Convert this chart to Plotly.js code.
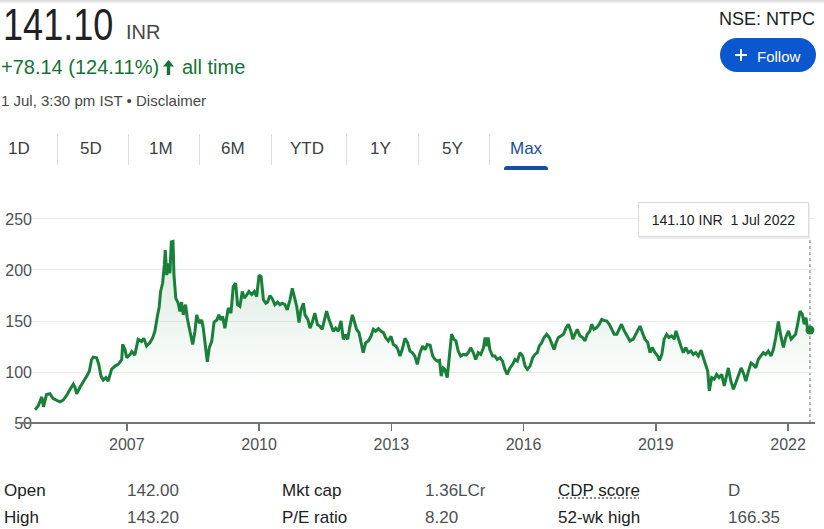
<!DOCTYPE html>
<html><head><meta charset="utf-8">
<script src="https://cdn.plot.ly/plotly-3.0.1.min.js"></script>
<style>
html,body{margin:0;padding:0;background:#fff;width:824px;height:529px;overflow:hidden;font-family:"Liberation Sans",Arial,sans-serif;}
#chart{position:absolute;left:0;top:0;width:824px;height:529px;}
.t{position:absolute;white-space:nowrap;line-height:1;}
#topshade{position:absolute;left:0;top:0;width:824px;height:4px;background:linear-gradient(#d9d9d9,#ffffff);}
.sep{position:absolute;top:134px;width:1px;height:31px;background:#dadce0;}
.tab{position:absolute;top:140px;font-size:17px;line-height:1;color:#3c4043;white-space:nowrap;}
.lab{position:absolute;font-size:17px;line-height:1;color:#202124;white-space:nowrap;}
.val{position:absolute;font-size:17px;line-height:1;color:#4d5156;white-space:nowrap;}
</style></head>
<body>
<div id="chart"></div>
<div id="topshade"></div>
<div class="t" style="left:3px;top:3px;font-size:44px;color:#202124;transform:scaleX(0.82);transform-origin:0 0;">141.10</div>
<div class="t" style="left:126px;top:22px;font-size:20px;color:#474747;">INR</div>
<div class="t" style="left:1px;top:57px;font-size:20px;color:#137333;">+78.14 (124.11%)</div>
<svg style="position:absolute;left:163px;top:60px" width="11" height="15" viewBox="0 0 11 15"><path d="M5.5 0 L11 6.5 L7.2 6.5 L7.2 15 L3.8 15 L3.8 6.5 L0 6.5 Z" fill="#137333"/></svg>
<div class="t" style="left:182px;top:57px;font-size:20px;color:#137333;">all time</div>
<div class="t" style="left:1px;top:93px;font-size:15px;color:#474747;">1 Jul, 3:30 pm IST • Disclaimer</div>
<div class="t" style="right:9px;top:10px;font-size:18px;color:#202124;">NSE: NTPC</div>
<div style="position:absolute;left:720px;top:38px;width:96px;height:34px;border-radius:17px;background:#0b57d0;">
  <svg style="position:absolute;left:15px;top:11px" width="12" height="12" viewBox="0 0 12 12"><rect x="5" y="0" width="2" height="12" fill="#fff"/><rect x="0" y="5" width="12" height="2" fill="#fff"/></svg>
  <div class="t" style="left:37px;top:11px;font-size:15px;color:#fff;">Follow</div>
</div>
<div class="tab" style="left:8px">1D</div>
<div class="tab" style="left:80px">5D</div>
<div class="tab" style="left:149px">1M</div>
<div class="tab" style="left:221px">6M</div>
<div class="tab" style="left:290px">YTD</div>
<div class="tab" style="left:370px">1Y</div>
<div class="tab" style="left:442px">5Y</div>
<div class="tab" style="left:510px;color:#174ea6">Max</div>
<div class="sep" style="left:57px"></div>
<div class="sep" style="left:128px"></div>
<div class="sep" style="left:199px"></div>
<div class="sep" style="left:271px"></div>
<div class="sep" style="left:346px"></div>
<div class="sep" style="left:418px"></div>
<div class="sep" style="left:489px"></div>
<div style="position:absolute;left:504px;top:166px;width:44px;height:4px;background:#174ea6;border-radius:3px 3px 0 0;"></div>
<div id="stats"></div>
<script>
// ---- data ----
const dates = [
'2004-12-02','2004-12-29','2005-01-27','2005-02-10','2005-03-07','2005-04-04','2005-05-01','2005-05-29','2005-06-26','2005-07-23','2005-08-21','2005-09-18','2005-10-15','2005-10-29','2005-11-12','2005-12-09',
'2006-01-06','2006-02-04','2006-02-25','2006-03-15','2006-03-28','2006-04-26','2006-05-14','2006-06-01','2006-06-20','2006-07-12','2006-07-31','2006-08-28','2006-09-25','2006-10-22','2006-11-20','2006-11-28','2006-12-17',
'2007-01-01','2007-01-28','2007-02-11','2007-03-08','2007-04-05','2007-05-03','2007-05-22','2007-06-14','2007-07-11','2007-08-03','2007-08-22','2007-09-11','2007-09-27','2007-10-08','2007-10-25','2007-11-08','2007-11-16','2007-11-28','2007-12-10','2007-12-24',
'2008-01-05','2008-01-19','2008-01-27','2008-02-11','2008-03-02','2008-03-16','2008-03-30','2008-04-13','2008-05-02','2008-05-16','2008-06-02','2008-06-30','2008-07-19','2008-08-02','2008-08-24','2008-09-13','2008-09-26','2008-10-10','2008-10-29','2008-11-15','2008-12-05','2008-12-24',
'2009-01-16','2009-02-02','2009-02-18','2009-03-05','2009-03-24','2009-04-21','2009-05-13','2009-06-01','2009-06-21','2009-07-07','2009-07-26','2009-08-15','2009-09-01','2009-09-21','2009-10-09','2009-11-01','2009-11-23','2009-12-12',
'2010-01-01','2010-01-18','2010-02-06','2010-02-26','2010-03-12','2010-04-01','2010-04-20','2010-05-12','2010-06-04','2010-06-23','2010-07-11','2010-08-03','2010-08-22','2010-09-14','2010-10-03','2010-10-20','2010-11-09','2010-11-28','2010-12-14',
'2011-01-03','2011-01-17','2011-02-09','2011-02-27','2011-03-17','2011-04-08','2011-04-30','2011-05-19','2011-06-08','2011-06-25','2011-07-14','2011-08-03','2011-08-19','2011-09-08','2011-09-28','2011-10-19','2011-11-11','2011-11-30','2011-12-19',
'2012-01-05','2012-01-24','2012-02-13','2012-02-28','2012-03-19','2012-04-08','2012-04-24','2012-05-13','2012-06-02','2012-06-24','2012-07-16','2012-08-05','2012-08-24','2012-09-16','2012-10-08','2012-10-27','2012-11-16','2012-12-07','2012-12-29',
'2013-01-18','2013-02-08','2013-02-24','2013-03-13','2013-04-01','2013-04-24','2013-05-16','2013-06-04','2013-06-23','2013-07-15','2013-08-04','2013-08-26','2013-09-18','2013-10-07','2013-10-26','2013-11-18','2013-12-10','2013-12-29',
'2014-01-17','2014-02-04','2014-02-18','2014-03-06','2014-03-20','2014-04-09','2014-04-25','2014-05-15','2014-06-04','2014-06-20','2014-07-09','2014-07-29','2014-08-20','2014-09-12','2014-09-30','2014-10-20','2014-11-11','2014-12-01','2014-12-22',
'2015-01-12','2015-02-03','2015-02-17','2015-03-01','2015-03-14','2015-03-28','2015-04-20','2015-05-09','2015-05-28','2015-06-20','2015-07-11','2015-07-31','2015-08-19','2015-09-11','2015-10-03','2015-10-22','2015-11-11','2015-12-03','2015-12-25',
'2016-01-14','2016-02-02','2016-02-24','2016-03-17','2016-04-05','2016-04-24','2016-05-10','2016-05-30','2016-06-19','2016-07-11','2016-08-02','2016-08-22','2016-09-10','2016-09-27','2016-10-16','2016-11-05','2016-11-27','2016-12-19',
'2017-01-07','2017-01-27','2017-02-13','2017-03-02','2017-03-21','2017-04-13','2017-05-05','2017-05-24','2017-06-12','2017-07-04','2017-07-18','2017-08-07','2017-08-29','2017-09-20','2017-10-10','2017-10-29','2017-11-21','2017-12-12',
'2018-01-02','2018-01-21','2018-02-12','2018-03-04','2018-03-23','2018-04-15','2018-05-12','2018-06-01','2018-06-28','2018-07-26','2018-08-23','2018-09-12','2018-10-03','2018-10-26','2018-11-14','2018-12-03','2018-12-25',
'2019-01-17','2019-01-31','2019-02-20','2019-03-11','2019-04-01','2019-04-20','2019-05-12','2019-06-03','2019-06-17','2019-07-06','2019-07-28','2019-08-17','2019-09-06','2019-09-27','2019-10-19','2019-11-08','2019-11-28','2019-12-19',
'2020-01-11','2020-01-30','2020-02-19','2020-03-06','2020-03-19','2020-04-08','2020-04-29','2020-05-19','2020-06-08','2020-06-30','2020-07-21','2020-08-11','2020-08-24','2020-09-14','2020-10-05','2020-10-25','2020-11-16','2020-12-08','2020-12-27',
'2021-01-16','2021-02-07','2021-02-28','2021-03-18','2021-04-08','2021-04-29','2021-05-21','2021-06-10','2021-06-29','2021-07-21','2021-08-13','2021-09-01','2021-09-21','2021-10-12','2021-11-02','2021-11-23','2021-12-13',
'2022-01-04','2022-01-26','2022-02-15','2022-03-04','2022-03-21','2022-04-10','2022-04-29','2022-05-15','2022-05-29','2022-06-12','2022-07-01'
];
const closes = [
62.96,67,75.6,65.9,78,78.7,73.9,72.4,70.8,72.4,77,83,88,85,78.6,85,
90,96,101,112,114.6,114,107.5,96,92,94.5,91,102.6,105.8,107.5,112,127,122,
114,117,120,116.6,132,130,133,125.4,128.6,133.4,140,154.5,164,179,187,205,219.5,195,206.5,196.8,
227.6,228,195,172.4,167.5,159.4,168.5,156,166,153,143,127,140,156,148,151,143,127,110,124,130,149,
151,156,151,154.5,143,162.7,157.8,183.8,187,166,164.3,179,172.4,175.6,179,176,179,174,
195,193.5,170.8,167.5,168.5,175,171.8,166,168.5,166,167.5,166,161,170.8,182,174,164.3,148.4,161,
167.5,156,151.6,143,148.4,157.8,146.4,145,141.9,150,159.7,151.6,146.4,140,143,140,150,132,136.7,
132,145,156,150,141.9,138.6,130.5,119,128.6,130.5,135,141.9,140,142.6,140,138.6,133.4,130.5,135,
127,125.4,122,115.6,122,133,128.6,120.5,119,115.6,107.5,119,125.3,122,127,126.3,115.6,112.3,
110.7,111.4,96,104,102.6,94.5,117.2,137,132,130.5,120.5,115.6,117.2,116.6,119,123.7,119,112.3,119,
117.2,123.7,133.8,125.3,133.8,122,115.6,115.6,112.3,114,110.7,102.6,97.7,104,107.5,112.3,110.7,119,115.6,
105.8,102.6,105.8,114,117.2,119,125.3,128.6,133.8,137,133.8,128.6,122,128.6,133.8,135.4,137,143.5,
146.8,140.3,132.2,137,141.9,135.4,133.8,130.5,137,140.3,146.8,141.9,143.5,146.8,151.6,150.6,150,146.8,
141.9,137,137,142.9,146.8,140.3,133.8,130.5,132.2,138.6,145,138.6,132.2,129,119,124,119,
115.6,111.4,117.2,132.2,137,133.8,135.4,132.2,140.3,132.2,125.3,119,124,119,120.5,117.2,119,115.6,
121.4,114,107.5,101,81.5,94.5,93,97.7,94.5,97.7,86.4,96,104,91,83,89.4,96,104,99.1,
91,100.8,108.9,107.3,104,112.3,115.6,119,117.2,120.5,115.6,122,133.8,149.4,135.4,124,133.8,
140.3,132.2,135.4,137,146.8,159.7,156.5,146.8,153.3,141.3,141.10
];
const yTicks = [50, 100, 150, 200, 250];
const xTickYears = [2007, 2010, 2013, 2016, 2019, 2022];
const currency = 'INR';
const statLabelsA = ['Open', 'High'];
const statValuesA = ['142.00', '143.20'];
const statLabelsB = ['Mkt cap', 'P/E ratio'];
const statValuesB = ['1.36LCr', '8.20'];
const statLabelsC = ['CDP score', '52-wk high'];
const statValuesC = ['D', '166.35'];

// ---- stats table ----
(function(){
  const box = document.getElementById('stats');
  const rowsTop = [482, 509];
  const cols = [[statLabelsA,'lab',4],[statValuesA,'val',127],[statLabelsB,'lab',282],[statValuesB,'val',425],[statLabelsC,'lab',558],[statValuesC,'val',728]];
  cols.forEach(([arr,cls,left])=>{
    arr.forEach((txt,i)=>{
      const d = document.createElement('div');
      d.className = cls; d.style.left = left+'px'; d.style.top = rowsTop[i]+'px';
      d.textContent = txt;
      if (txt === 'CDP score') { d.style.textDecoration = 'underline dotted #5f6368'; d.style.textUnderlineOffset = '2px'; }
      box.appendChild(d);
    });
  });
})();

// ---- chart ----
const last = dates.length - 1;
const months = ['Jan','Feb','Mar','Apr','May','Jun','Jul','Aug','Sep','Oct','Nov','Dec'];
function fmtDate(s){ const p = s.split('-'); return (+p[2]) + ' ' + months[+p[1]-1] + ' ' + p[0]; }
const tipText = closes[last].toFixed(2) + ' ' + currency + '\u00a0\u00a0' + fmtDate(dates[last]);

const lineTrace = {
  x: dates, y: closes, type: 'scatter', mode: 'lines',
  line: {color: '#188038', width: 3},
  fill: 'tozeroy',
  fillgradient: {type: 'vertical', start: 85, stop: 230,
    colorscale: [[0, 'rgba(24,128,56,0)'], [1, 'rgba(24,128,56,0.18)']]},
  hoverinfo: 'skip'
};
const dotTrace = {
  x: [dates[last]], y: [closes[last]], type: 'scatter', mode: 'markers',
  marker: {color: '#188038', size: 9}, hoverinfo: 'skip'
};

const layout = {
  width: 824, height: 529,
  margin: {l: 33, r: 9, t: 199, b: 106, pad: 0},
  paper_bgcolor: 'rgba(0,0,0,0)', plot_bgcolor: 'rgba(0,0,0,0)',
  showlegend: false, hovermode: false,
  font: {family: '"Liberation Sans", Arial, sans-serif'},
  xaxis: {
    type: 'date', range: ['2004-11-15', '2022-08-12'],
    tickvals: xTickYears.map(y => y + '-01-01'), ticktext: xTickYears.map(String),
    ticks: 'outside', ticklen: 7, tickwidth: 1.5, tickcolor: '#70757a',
    showgrid: false, zeroline: false, showline: false,
    tickfont: {size: 16, color: '#4d5156'}, fixedrange: true
  },
  yaxis: {
    range: [50, 269.6], tickvals: yTicks, ticks: '',
    showgrid: true, gridcolor: '#ececec', gridwidth: 1,
    zeroline: false, showline: false,
    tickfont: {size: 16, color: '#4d5156'}, fixedrange: true
  },
  shapes: [
    {type: 'line', xref: 'paper', yref: 'paper', x0: -0.0166, x1: 1, y0: 0, y1: 0,
     line: {color: '#757575', width: 2}, layer: 'above'},
    {type: 'line', xref: 'x', yref: 'paper', x0: dates[last], x1: dates[last], y0: 0, y1: 0.83,
     line: {color: '#9aa0a6', width: 1.5, dash: 'dot'}, layer: 'below'}
  ],
  annotations: [
    {xref: 'x', yref: 'paper', x: dates[last], y: 0.9085, xanchor: 'right', yanchor: 'middle',
     xshift: 0, yshift: -2, text: ' ', showarrow: false, width: 171, height: 35,
     bgcolor: 'rgba(0,0,0,0.07)', borderpad: 0, borderwidth: 0},
    {xref: 'x', yref: 'paper', x: dates[last], y: 0.9085, xanchor: 'right', yanchor: 'middle',
     xshift: -1, text: tipText, showarrow: false, width: 169, height: 33,
     bgcolor: '#ffffff', bordercolor: '#dadce0', borderwidth: 1, borderpad: 0,
     font: {size: 14, color: '#202124'}}
  ]
};

Plotly.newPlot('chart', [lineTrace, dotTrace], layout, {staticPlot: true, displayModeBar: false});
</script>
</body></html>
